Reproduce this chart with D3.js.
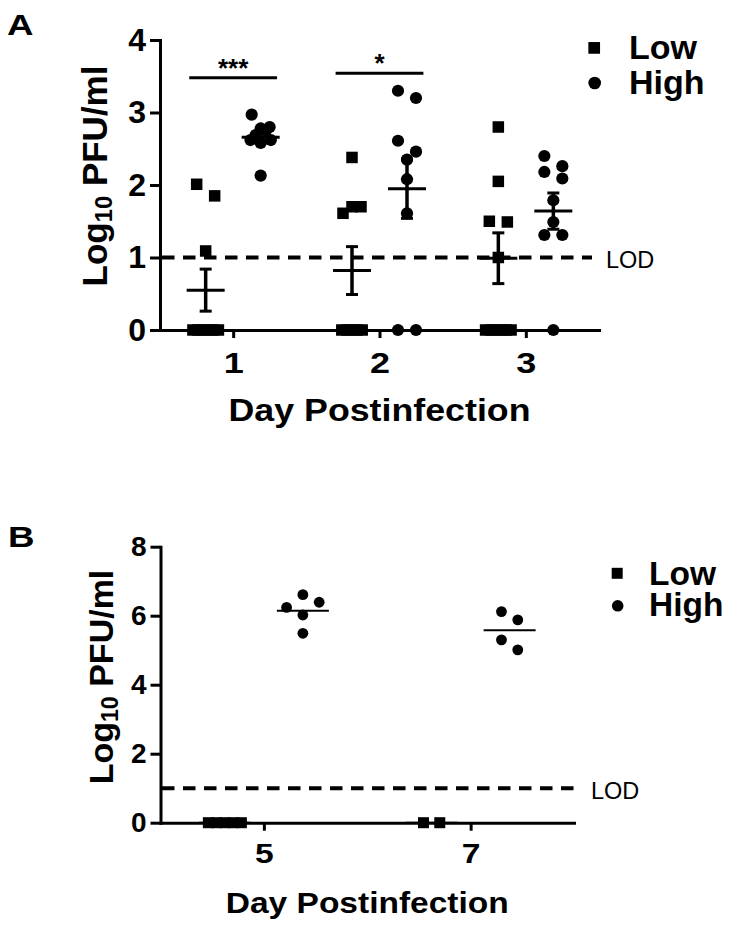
<!DOCTYPE html>
<html><head><meta charset="utf-8">
<script src="https://cdn.jsdelivr.net/npm/d3@7"></script>
<style>
body{margin:0;background:#fff}
svg{display:block}
text{font-family:"Liberation Sans",Arial,Helvetica,sans-serif;fill:#000}
</style>
</head><body><svg id="c" width="729" height="928"></svg>
<script>
// ---------------- data ----------------
const groups = ["Low", "High"];
const daysA = [1, 2, 3];
const lowA = [
  [2.01, 1.85, 1.09, 0, 0, 0, 0, 0, 0],
  [2.38, 1.70, 1.70, 1.61, 0, 0, 0, 0, 0],
  [2.80, 2.05, 1.50, 1.49, 1.00, 0, 0, 0, 0, 0, 0]
];
const highA = [
  [2.97, 2.80, 2.78, 2.75, 2.69, 2.62, 2.62, 2.58, 2.13],
  [3.30, 3.20, 2.61, 2.46, 2.35, 2.08, 1.61, 0, 0],
  [2.40, 2.26, 2.18, 2.09, 1.79, 1.49, 1.31, 1.31, 0]
];
const lowMeanA = [0.55, 0.82, 0.99];
const lowSemA = [0.29, 0.33, 0.35];
const highMeanA = [2.66, 1.95, 1.64];
const highSemA = [0.08, 0.41, 0.25];
const yTicksA = [0, 1, 2, 3, 4];
const sigDays = [1, 2];
const sigLabels = ["***", "*"];
const sigLevels = [3.48, 3.54];
const lodValue = 1;
const lodLabel = "LOD";

const daysB = [5, 7];
const lowB = [[0, 0, 0, 0, 0], [0, 0]];
const highB = [[6.61, 6.39, 6.24, 6.02, 5.49], [6.12, 5.88, 5.30, 5.01]];
const lowMeanB = [0, 0];
const highMeanB = [6.14, 5.58];
const yTicksB = [0, 2, 4, 6, 8];

const xTitle = "Day Postinfection";

// ---------------- helpers ----------------
const svg = d3.select("#c");
svg.append("rect").attr("width", 729).attr("height", 928).attr("fill", "#fff");

function swarm(vals, y, rowH, step, maxSpan, minStep) {
  const sorted = vals.map(v => ({v})).sort((a, b) => b.v - a.v);
  const rows = []; let cur = null;
  sorted.forEach(p => {
    if (cur && Math.abs(y(p.v) - y(cur[0].v)) < rowH) cur.push(p);
    else { cur = [p]; rows.push(cur); }
  });
  const out = [];
  rows.forEach(r => {
    const k = r.length;
    if (k === 1) { out.push({v: r[0].v, dx: 0}); return; }
    const span = Math.min(step * (k - 1), Math.max(maxSpan, (k - 1) * minStep));
    const sp = span / (k - 1);
    let slots;
    if (k % 2 === 1) {
      slots = [0];
      for (let j = 1; slots.length < k; j++) { slots.push(j); if (slots.length < k) slots.push(-j); }
    } else {
      slots = d3.range(k).map(j => j - (k - 1) / 2);
    }
    r.forEach((p, j) => out.push({v: p.v, dx: slots[j] * sp}));
  });
  return out;
}

function styleAxis(g, size, sx) {
  g.attr("font-family", null).attr("font-size", null);
  g.select(".domain").attr("stroke", "#000").attr("stroke-width", 3).attr("stroke-linecap", "square");
  g.selectAll(".tick line").attr("stroke", "#000").attr("stroke-width", 3);
  g.selectAll(".tick text").attr("fill", "#000").attr("font-size", size).attr("font-weight", "bold")
    .attr("transform", sx ? `scale(${sx},1)` : null);
}

function drawPanel(p) {
  const g = svg.append("g");
  const x = p.x, y = p.y, off = d3.scalePoint().domain(groups).range(p.offRange);

  // LOD line
  g.append("line").attr("x1", p.lodX0).attr("x2", p.lodX1)
    .attr("y1", y(lodValue)).attr("y2", y(lodValue))
    .attr("stroke", "#000").attr("stroke-width", 4).attr("stroke-dasharray", "12.5,8.5");
  g.append("text").attr("x", p.lodX1 + 14).attr("y", y(lodValue) + 10.5)
    .attr("font-size", 23.5).text(lodLabel);

  // axes
  const ya = g.append("g").attr("transform", `translate(${x.range()[0]},0)`)
    .call(d3.axisLeft(y).tickValues(p.yTicks).tickSize(10).tickSizeOuter(0).tickPadding(4).tickFormat(d3.format("d")));
  styleAxis(ya, p.yTickSize, null);
  const xa = g.append("g").attr("transform", `translate(0,${y(0)})`)
    .call(d3.axisBottom(x).tickValues(p.days).tickSize(8).tickSizeOuter(0).tickPadding(p.xPad).tickFormat(d3.format("d")));
  styleAxis(xa, p.xTickSize, 1.2);

  // points
  p.days.forEach((day, i) => {
    groups.forEach(grp => {
      const vals = grp === "Low" ? p.low[i] : p.high[i];
      const cx = x(day) + off(grp);
      const pts = swarm(vals, y, p.rowH, p.step, p.maxSpan, p.minStep);
      if (grp === "Low") {
        g.selectAll(null).data(pts).enter().append("rect")
          .attr("x", d => cx + d.dx - p.sq / 2).attr("y", d => y(d.v) - p.sq / 2)
          .attr("width", p.sq).attr("height", p.sq).attr("fill", "#000");
      } else {
        g.selectAll(null).data(pts).enter().append("circle")
          .attr("cx", d => cx + d.dx).attr("cy", d => y(d.v)).attr("r", p.r).attr("fill", "#000");
      }
      const m = grp === "Low" ? p.lowMean[i] : p.highMean[i];
      g.append("line").attr("x1", cx - p.meanW / 2).attr("x2", cx + p.meanW / 2)
        .attr("y1", y(m)).attr("y2", y(m)).attr("stroke", "#000").attr("stroke-width", p.meanSW);
      if (p.lowSem) {
        const s = grp === "Low" ? p.lowSem[i] : p.highSem[i];
        g.append("line").attr("x1", cx).attr("x2", cx).attr("y1", y(m - s)).attr("y2", y(m + s))
          .attr("stroke", "#000").attr("stroke-width", 3.5);
        [m - s, m + s].forEach(v => g.append("line").attr("x1", cx - 6).attr("x2", cx + 6)
          .attr("y1", y(v)).attr("y2", y(v)).attr("stroke", "#000").attr("stroke-width", 3));
      }
    });
  });

  // legend
  const lg = p.legend;
  g.append("rect").attr("x", lg.x - lg.sq / 2).attr("y", lg.y1 - lg.sq / 2).attr("width", lg.sq).attr("height", lg.sq);
  g.append("circle").attr("cx", lg.x + 0.5).attr("cy", lg.y2).attr("r", lg.r);
  g.append("text").attr("x", lg.tx).attr("y", lg.y1 + 11.5).attr("font-size", lg.fs).attr("font-weight", "bold").text(groups[0]);
  g.append("text").attr("x", lg.tx).attr("y", lg.y2 + 10.5).attr("font-size", lg.fs).attr("font-weight", "bold").text(groups[1]);

  // titles
  const xm = (x.range()[0] + x.range()[1]) / 2;
  g.append("text").attr("x", xm).attr("y", p.xTitleY).attr("text-anchor", "middle")
    .attr("font-size", p.xTitleSize).attr("font-weight", "bold")
    .attr("textLength", p.xTitleLen).attr("lengthAdjust", "spacingAndGlyphs").text(xTitle);
  const yt = g.append("text").attr("transform", `translate(${p.yTitleX},${p.yTitleY}) rotate(-90)`)
    .attr("text-anchor", "middle").attr("font-size", p.yTitleSize).attr("font-weight", "bold");
  yt.append("tspan").text("Log");
  yt.append("tspan").attr("font-size", p.yTitleSize * 0.68).attr("dy", 5).text("10");
  yt.append("tspan").attr("dy", -5).text(" PFU/ml");

  // panel letter
  g.append("text").attr("x", p.letterX).attr("y", p.letterY).attr("font-size", 29).attr("font-weight", "bold")
    .attr("textLength", 26.5).attr("lengthAdjust", "spacingAndGlyphs").text(p.letter);
  return g;
}

// ---------------- panel A ----------------
const xA = d3.scaleLinear().domain([0.5, 3.5]).range([160, 599]);
const yA = d3.scaleLinear().domain([0, 4]).range([330, 40]);
const gA = drawPanel({
  x: xA, y: yA, days: daysA, low: lowA, high: highA,
  lowMean: lowMeanA, highMean: highMeanA, lowSem: lowSemA, highSem: highSemA,
  yTicks: yTicksA, offRange: [-27.5, 27.5], rowH: 13, step: 18, maxSpan: 18, minStep: 5.1,
  sq: 11.5, r: 6.1, meanW: 38, meanSW: 3,
  lodX0: 162, lodX1: 592, yTickSize: 32, xTickSize: 30, xPad: 13.7,
  legend: {x: 594.2, y1: 47.9, y2: 83, sq: 11.7, r: 6.3, tx: 629, fs: 34},
  xTitleY: 421, xTitleSize: 32, xTitleLen: 302,
  yTitleX: 106.5, yTitleY: 176, yTitleSize: 35,
  letter: "A", letterX: 7, letterY: 35
});
// significance bars
sigDays.forEach((d, i) => {
  gA.append("line").attr("x1", xA(d - 0.3)).attr("x2", xA(d + 0.3))
    .attr("y1", yA(sigLevels[i])).attr("y2", yA(sigLevels[i])).attr("stroke", "#000").attr("stroke-width", 3);
  gA.append("text").attr("x", xA(d)).attr("y", yA(sigLevels[i]) - 1).attr("text-anchor", "middle")
    .attr("font-size", 26).attr("font-weight", "bold").text(sigLabels[i]);
});

// ---------------- panel B ----------------
const xB = d3.scaleLinear().domain([4, 8]).range([160.5, 574]);
const yB = d3.scaleLinear().domain([0, 8]).range([822.7, 546.7]);
drawPanel({
  x: xB, y: yB, days: daysB, low: lowB, high: highB,
  lowMean: lowMeanB, highMean: highMeanB, lowSem: null, highSem: null,
  yTicks: yTicksB, offRange: [-39, 39], rowH: 13, step: 16.3, maxSpan: 33, minStep: 0,
  sq: 11, r: 5.4, meanW: 52, meanSW: 2,
  lodX0: 162, lodX1: 577, yTickSize: 28, xTickSize: 28, xPad: 12.6,
  legend: {x: 617.2, y1: 573.3, y2: 605.8, sq: 11, r: 5.8, tx: 649, fs: 33.5},
  xTitleY: 913.3, xTitleSize: 30, xTitleLen: 283,
  yTitleX: 113, yTitleY: 677, yTitleSize: 34,
  letter: "B", letterX: 8, letterY: 547
});
</script>
</body></html>
